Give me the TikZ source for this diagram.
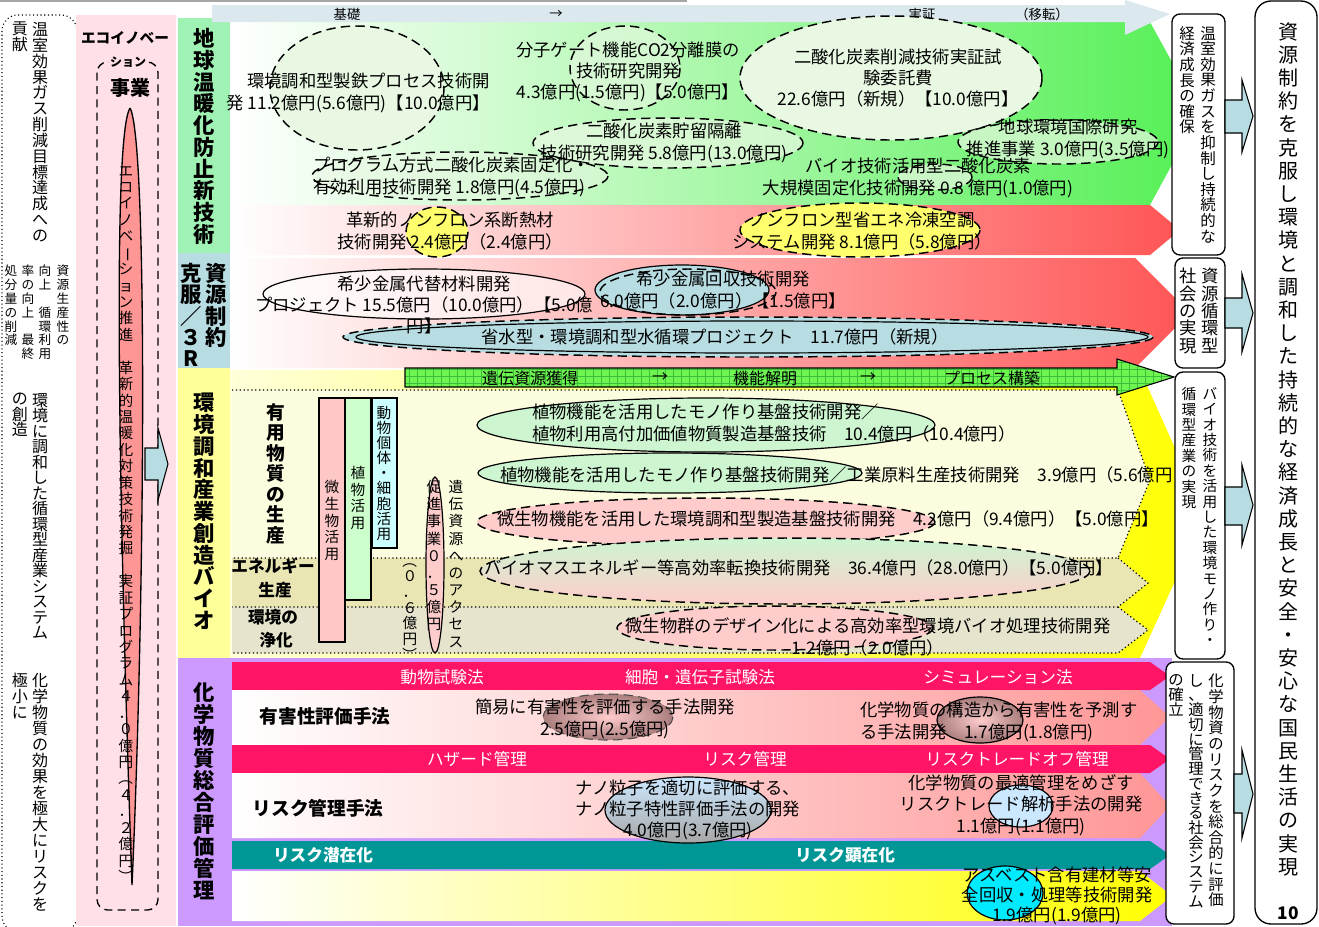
\documentclass[tikz,border=0pt]{standalone}
\usepackage{fontspec}
\setmainfont{Noto Sans CJK JP}
\newfontfamily\vfont{Noto Sans CJK JP}
\usetikzlibrary{shapes.geometric}
\makeatletter
\newcommand\fsz[2]{\fontsize{#1pt}{#2pt}\selectfont}
\def\vt@bar{ー}\def\vt@lp{（}\def\vt@rp{）}
\def\vt@rot{\rotatebox[origin=c]{-90}{\vt@c}}
\newcommand\vt@put{\ifx\vt@c\vt@bar\vt@rot\else\ifx\vt@c\vt@lp\vt@rot\else\ifx\vt@c\vt@rp\vt@rot\else\vt@c\fi\fi\fi}
\newcommand\vt[3]{{#1\vbox{\baselineskip=#2em\lineskip=0pt\lineskiplimit=-100pt\@tfor\vt@c:=#3\do{\hbox to1em{\hss\vt@put\hss}}}}}
\makeatother
\definecolor{catG}{RGB}{160,242,180}
\definecolor{catB}{RGB}{183,221,226}
\definecolor{catY}{RGB}{255,255,153}
\definecolor{catP}{RGB}{204,153,255}
\definecolor{ecoP}{RGB}{255,224,230}
\definecolor{lensR}{RGB}{255,150,150}
\definecolor{topA}{RGB}{219,232,238}
\definecolor{grn}{RGB}{85,240,85}
\definecolor{redR}{RGB}{255,85,85}
\definecolor{ellG}{RGB}{232,248,226}
\definecolor{ellY}{RGB}{255,255,110}
\definecolor{ellB}{RGB}{183,221,226}
\definecolor{arrB}{RGB}{183,221,226}
\definecolor{gArr}{RGB}{110,245,80}
\definecolor{gGrid}{RGB}{60,190,60}
\definecolor{pa}{RGB}{252,252,222}
\definecolor{pb}{RGB}{234,230,180}
\definecolor{pc}{RGB}{230,228,204}
\definecolor{barP}{RGB}{255,200,200}
\definecolor{barG}{RGB}{204,255,204}
\definecolor{barC}{RGB}{204,255,255}
\definecolor{eG}{RGB}{204,245,208}
\definecolor{pinkE}{RGB}{255,204,204}
\definecolor{mag}{RGB}{255,20,102}
\definecolor{tealB}{RGB}{0,150,150}
\definecolor{salm}{RGB}{255,150,150}
\definecolor{lav}{RGB}{204,153,255}
\definecolor{brn}{RGB}{170,125,125}
\definecolor{ltblue}{RGB}{204,232,255}
\definecolor{cyn}{RGB}{0,235,255}
\begin{document}
\begin{tikzpicture}[x=0.75pt,y=-0.75pt,
 dsh/.style={draw=black, line width=1.1pt, dash pattern=on 7pt off 4pt},
 sol/.style={draw=black, line width=0.9pt},
 tx/.style={font=\fsz{13}{16}, align=center, inner sep=0pt},
 txl/.style={font=\fsz{13}{16}, align=left, inner sep=0pt, anchor=west},
 vn/.style={anchor=north, inner sep=0pt},
 band/.style={font=\fsz{12.5}{14}, text=white, inner sep=0pt},
 bandb/.style={font=\fsz{12.5}{14}\bfseries, text=white, inner sep=0pt},
 rbox/.style={draw=black, fill=white, line width=1pt, rounded corners=6pt},
 barr/.style={draw=black, fill=arrB, line width=0.8pt}]
\useasboundingbox (0,0) rectangle (1319,926);
\fill[white] (0,0) rectangle (1319,926);
\draw[gray!70, line width=0.8pt] (0,1) -- (687,1);

% left column
\draw[dotted, line width=0.8pt, rounded corners=12pt] (2,15) rectangle (77,932);
\node[vn] (l1a) at (40,22) {\vt{\vfont\fsz{12}{12}}{0.99}{温室効果ガス削減目標達成への}};
\node[vn] (l1b) at (20,22) {\vt{\vfont\fsz{12}{12}}{0.99}{貢献}};
\node[vn] (l2a) at (63,265) {\vt{\vfont\fsz{9.5}{9.5}}{1.09}{資源生産性の}};
\node[vn] (l2b) at (45,265) {\vt{\vfont\fsz{9.5}{9.5}}{1.09}{向上~循環利用}};
\node[vn] (l2c) at (28,265) {\vt{\vfont\fsz{9.5}{9.5}}{1.09}{率の向上~最終}};
\node[vn] (l2d) at (11,265) {\vt{\vfont\fsz{9.5}{9.5}}{1.09}{処分量の削減}};
\node[vn] (l3a) at (40,393) {\vt{\vfont\fsz{12}{12}}{0.97}{環境に調和した循環型産業システム}};
\node[vn] (l3b) at (20,393) {\vt{\vfont\fsz{12}{12}}{0.97}{の創造}};
\node[vn] (l4a) at (40,673) {\vt{\vfont\fsz{12}{12}}{1.0}{化学物質の効果を極大にリスクを}};
\node[vn] (l4b) at (20,673) {\vt{\vfont\fsz{12}{12}}{1.0}{極小に}};

% eco column
\fill[ecoP] (76,15) rectangle (176,926);
\draw[line width=1pt, dash pattern=on 6pt off 4pt, rounded corners=8pt] (97,62) rectangle (158,910);
\node[font=\fsz{11}{11}\bfseries, inner sep=0pt, fill=ecoP] (eh1) at (125,38) {エコイノベー};
\node[font=\fsz{9}{9}\bfseries, inner sep=1pt, fill=ecoP] (eh2) at (128,62) {ション};
\node[font=\fsz{15}{15}\bfseries, inner sep=0pt] (eh3) at (130,88) {事業};
\draw[fill=lensR, line width=1pt] (130,108) .. controls (148,140) and (145,600) .. (132,885) .. controls (122,600) and (110,140) .. (130,108);
\node[vn] (ecot) at (126,166) {\vt{\vfont\fsz{11}{11}}{1.12}{エコイノベーション推進~革新的温暖化対策技術発掘~実証プログラム４．０億円（４．２億円）}};
\draw[barr] (145,448) -- (158,448) -- (158,428) -- (168,464) -- (158,500) -- (158,480) -- (145,480) -- cycle;

% category column
\fill[catG] (178,18) rectangle (230,253);
\fill[catB] (178,253) rectangle (230,368);
\fill[catY] (178,368) rectangle (230,658);
\fill[catP] (178,658) rectangle (230,926);
\node[vn] (c1) at (204,28) {\vt{\vfont\fsz{16}{16}\bfseries}{1.02}{地球温暖化防止新技術}};
\node[vn] (c2a) at (216,263) {\vt{\vfont\fsz{16}{16}\bfseries}{1.0}{資源制約}};
\node[vn] (c2b) at (191,263) {\vt{\vfont\fsz{16}{16}\bfseries}{1.0}{克服／３R}};
\node[vn] (c3) at (204,393) {\vt{\vfont\fsz{16}{16}\bfseries}{1.02}{環境調和産業創造バイオ}};
\node[vn] (c4) at (204,682) {\vt{\vfont\fsz{16}{16}\bfseries}{1.03}{化学物質総合評価管理}};

% row 1 and 1b and 2
\shade[left color=white, middle color=grn!45, right color=grn] (230,22) -- (1150,22) -- (1200,113) -- (1150,205) -- (230,205) -- cycle;
\shade[left color=white, middle color=redR!30, right color=redR] (230,205) -- (1150,205) -- (1180,230) -- (1150,255) -- (230,255) -- cycle;
\shade[left color=white, middle color=redR!35, right color=redR] (230,258) -- (1135,258) -- (1190,313) -- (1135,368) -- (230,368) -- cycle;
\fill[topA] (212,5) -- (1125,5) -- (1125,0) -- (1170,14) -- (1125,35) -- (1125,22) -- (212,22) -- cycle;
\node[font=\fsz{10}{10}, inner sep=0pt] (k1) at (347,14) {基礎};
\node[font=\fsz{10}{10}, inner sep=0pt] (k2) at (556,14) {→};
\node[font=\fsz{10}{10}, inner sep=0pt] (k3) at (922,14) {実証};
\node[font=\fsz{10}{10}, inner sep=0pt] (k4) at (1042,14) {（移転）};

% row 1 ellipses
\draw[dsh, fill=ellG] (357,88) ellipse [x radius=87, y radius=62];
\draw[dsh, fill=ellG, fill opacity=0.6] (625,68) ellipse [x radius=55, y radius=42];
\draw[dsh, fill=ellG] (891,78) ellipse [x radius=151, y radius=62];
\draw[dsh, fill=ellG, fill opacity=0.7] (668,143) ellipse [x radius=135, y radius=25];
\draw[dsh, fill=ellG, fill opacity=0.5] (460,176) ellipse [x radius=148, y radius=24];
\draw[dsh, fill=ellG, fill opacity=0.7] (1058,142) ellipse [x radius=100, y radius=22];
\draw[dsh, fill=ellG, fill opacity=0.7] (935,177) ellipse [x radius=37, y radius=13];
\draw[dsh, fill=ellY] (437,232) ellipse [x radius=31, y radius=25];
\draw[dsh, fill=ellY] (860,230) ellipse [x radius=120, y radius=27];
\node[tx, align=right, anchor=east] (t1) at (490,93) {環境調和型製鉄プロセス技術開\\発 11.2億円(5.6億円)【10.0億円】};
\node[tx] (t2) at (628,72) {分子ゲート機能CO2分離膜の\\技術研究開発\\4.3億円(1.5億円)【5.0億円】};
\node[tx] (t3) at (898,78) {二酸化炭素削減技術実証試\\験委託費\\22.6億円（新規）【10.0億円】};
\node[tx] (t4) at (664,143) {二酸化炭素貯留隔離\\技術研究開発 5.8億円(13.0億円)};
\node[txl] (t5) at (313,177) {プログラム方式二酸化炭素固定化・\\有効利用技術開発 1.8億円(4.5億円)};
\node[tx] (t6) at (1068,139) {地球環境国際研究\\推進事業 3.0億円(3.5億円)};
\node[tx] (t7) at (918,178) {バイオ技術活用型二酸化炭素\\大規模固定化技術開発 0.8 億円(1.0億円)};
\node[tx] (t8) at (450,231) {革新的ノンフロン系断熱材\\技術開発 2.4億円（2.4億円）};
\node[tx] (t9) at (862,231) {ノンフロン型省エネ冷凍空調\\システム開発 8.1億円（5.8億円）};

% row 2 ellipses
\draw[sol, fill=white, fill opacity=0.6] (424,294) ellipse [x radius=161, y radius=25];
\draw[sol, fill=ellB] (682,290) ellipse [x radius=87, y radius=25];
\draw[dsh] (688,292) ellipse [x radius=88, y radius=23];
\draw[dsh, fill=ellB] (748,337) ellipse [x radius=405, y radius=20];
\draw[sol] (752,337) ellipse [x radius=396, y radius=16];
\node[tx] (t10) at (424,305) {希少金属代替材料開発\\プロジェクト 15.5億円（10.0億円）【5.0億\\円】};
\node[tx] (t11) at (723,290) {希少金属回収技術開発\\6.0億円（2.0億円）【1.5億円】};
\node[tx] (t12) at (715,337) {省水型・環境調和型水循環プロジェクト　11.7億円（新規）};

% row 3
\shade[left color=yellow!15, right color=yellow] (230,370) -- (1140,370) -- (1205,515) -- (1140,658) -- (230,658) -- cycle;
\fill[pa] (232,390) -- (1118,390) -- (1150,480) -- (1118,558) -- (232,558) -- cycle;
\fill[pb] (232,558) -- (1118,558) -- (1148,583) -- (1118,607) -- (232,607) -- cycle;
\fill[pc] (232,607) -- (1118,607) -- (1148,630) -- (1118,653) -- (232,653) -- cycle;
\draw[dotted, line width=0.9pt] (232,390) -- (1118,390) -- (1150,480) -- (1118,558) -- (232,558);
\draw[dotted, line width=0.9pt] (1118,558) -- (1148,583) -- (1118,607) -- (232,607);
\draw[dotted, line width=0.9pt] (1118,607) -- (1148,630) -- (1118,653) -- (232,653);
\fill[gArr] (405,368) -- (1117,368) -- (1117,359) -- (1174,377) -- (1117,395) -- (1117,387) -- (405,387) -- cycle;
\begin{scope}
\clip (405,368) -- (1117,368) -- (1117,359) -- (1174,377) -- (1117,395) -- (1117,387) -- (405,387) -- cycle;
\foreach \gx in {409,417,...,1177} \draw[gGrid, line width=0.3pt] (\gx,355) -- (\gx,400);
\foreach \gy in {362,369,...,397} \draw[gGrid, line width=0.3pt] (405,\gy) -- (1177,\gy);
\end{scope}
\draw[line width=0.8pt] (405,368) -- (1117,368) -- (1117,359) -- (1174,377) -- (1117,395) -- (1117,387) -- (405,387) -- cycle;
\node[font=\fsz{12}{12}, inner sep=0pt] (g1) at (530,378) {遺伝資源獲得};
\node[font=\fsz{12}{12}, inner sep=0pt] (g2) at (660,378) {→};
\node[font=\fsz{12}{12}, inner sep=0pt] (g3) at (765,378) {機能解明};
\node[font=\fsz{12}{12}, inner sep=0pt] (g4) at (868,378) {→};
\node[font=\fsz{12}{12}, inner sep=0pt] (g5) at (992,378) {プロセス構築};

\node[vn] (y1) at (276,403) {\vt{\vfont\fsz{14}{14}\bfseries}{1.1}{有用物質の生産}};
\node[font=\fsz{12.5}{12.5}\bfseries, inner sep=0pt] (y2a) at (273,566) {エネルギー};
\node[font=\fsz{12.5}{12.5}\bfseries, inner sep=0pt] (y2b) at (275,590) {生産};
\node[font=\fsz{12.5}{12.5}\bfseries, inner sep=0pt] (y3a) at (273,617) {環境の};
\node[font=\fsz{12.5}{12.5}\bfseries, inner sep=0pt] (y3b) at (276,640) {浄化};

\draw[sol, fill=barP] (319,398) rectangle (345,642);
\draw[sol, fill=barG] (345,398) rectangle (371,600);
\draw[sol, fill=barC] (372,398) rectangle (397,548);
\node[vn] (b1) at (332,480) {\vt{\vfont\fsz{11}{11}}{1.14}{微生物活用}};
\node[vn] (b2) at (358,466) {\vt{\vfont\fsz{11}{11}}{1.13}{植物活用}};
\node[vn] (b3) at (384,406) {\vt{\vfont\fsz{11}{11}}{1.03}{動物個体・細胞活用}};
\node[vn] (b4) at (410,553) {\vt{\vfont\fsz{11}{11}}{1.07}{（０．６億円）}};
\draw[sol, fill=pinkE] (435,565) ellipse [x radius=9, y radius=88];
\node[vn] (b5) at (434,480) {\vt{\vfont\fsz{11}{11}}{1.17}{促進事業０．５億円}};
\node[vn] (b6) at (456,480) {\vt{\vfont\fsz{11}{11}}{1.17}{遺伝資源へのアクセス}};

\draw[sol, fill=eG] (706,425) ellipse [x radius=229, y radius=27];
\draw[sol, fill=eG] (670,473) ellipse [x radius=192, y radius=20];
\draw[dsh, fill=pinkE] (706,522) ellipse [x radius=229, y radius=24];
\shade[top color=eG, bottom color=pinkE] (785,571) ellipse [x radius=305, y radius=33];
\draw[dsh] (785,571) ellipse [x radius=305, y radius=33];
\draw[dsh, fill=pinkE] (775,628) ellipse [x radius=158, y radius=22];
\node[txl] (t13) at (532,423) {植物機能を活用したモノ作り基盤技術開発／\\植物利用高付加価値物質製造基盤技術　10.4億円（10.4億円）};
\node[txl] (t14) at (500,475) {植物機能を活用したモノ作り基盤技術開発／工業原料生産技術開発　3.9億円（5.6億円};
\node[txl] (t15) at (497,519) {微生物機能を活用した環境調和型製造基盤技術開発　4.2億円（9.4億円）【5.0億円】};
\node[txl] (t16) at (484,568) {バイオマスエネルギー等高効率転換技術開発　36.4億円（28.0億円）【5.0億円】};
\node[tx] (t17) at (868,637) {微生物群のデザイン化による高効率型環境バイオ処理技術開発\\1.2億円（2.0億円）};

% row 4
\fill[lav] (230,658) rectangle (1172,926);
\fill[mag] (232,662) -- (1150,662) -- (1170,676) -- (1150,690) -- (232,690) -- cycle;
\shade[left color=white, right color=salm] (232,690) -- (1140,690) -- (1170,717) -- (1140,745) -- (232,745) -- cycle;
\fill[mag] (232,745) -- (1150,745) -- (1170,759) -- (1150,773) -- (232,773) -- cycle;
\shade[left color=white, right color=salm] (232,773) -- (1140,773) -- (1170,806) -- (1140,838) -- (232,838) -- cycle;
\fill[tealB] (232,841) -- (1150,841) -- (1170,855) -- (1150,869) -- (232,869) -- cycle;
\shade[left color=white, right color=yellow] (232,871) -- (1140,871) -- (1172,896) -- (1140,921) -- (232,921) -- cycle;
\node[band] (m1) at (442,677) {動物試験法};
\node[band] (m2) at (700,677) {細胞・遺伝子試験法};
\node[band] (m3) at (998,677) {シミュレーション法};
\node[band] (m4) at (477,759) {ハザード管理};
\node[band] (m5) at (745,759) {リスク管理};
\node[band] (m6) at (1017,759) {リスクトレードオフ管理};
\node[bandb] (m7) at (323,855) {リスク潜在化};
\node[bandb] (m8) at (845,855) {リスク顕在化};
\node[font=\fsz{14}{14}\bfseries, inner sep=0pt] (h1) at (325,716) {有害性評価手法};
\node[font=\fsz{14}{14}\bfseries, inner sep=0pt] (h2) at (318,808) {リスク管理手法};
\shade[inner color=pinkE, outer color=brn] (608,717) ellipse [x radius=65, y radius=23];
\draw[dsh, draw=black!70, line width=0.8pt] (608,717) ellipse [x radius=65, y radius=23];
\shade[inner color=pinkE, outer color=brn] (980,720) ellipse [x radius=43, y radius=23];
\draw[sol] (980,720) ellipse [x radius=43, y radius=23];
\shade[top color=ltblue, bottom color=gray!70] (688,810) ellipse [x radius=83, y radius=33];
\draw[sol] (688,810) ellipse [x radius=83, y radius=33];
\draw[sol, fill=ltblue] (1021,806) ellipse [x radius=32, y radius=21];
\draw[sol, fill=cyn] (1005,893) ellipse [x radius=38, y radius=27];
\node[tx] (t18) at (605,719) {簡易に有害性を評価する手法開発\\2.5億円(2.5億円)};
\node[txl] (t19) at (860,722) {化学物質の構造から有害性を予測す\\る手法開発　1.7億円(1.8億円)};
\node[tx] (t20) at (688,810) {ナノ粒子を適切に評価する、\\ナノ粒子特性評価手法の開発\\4.0億円(3.7億円)};
\node[tx] (t21) at (1021,805) {化学物質の最適管理をめざす\\リスクトレード解析手法の開発\\1.1億円(1.1億円)};
\node[tx, font=\fsz{13}{15}] (t22) at (1057,896) {アスベスト含有建材等安\\全回収・処理等技術開発\\1.9億円(1.9億円)};

% right boxes
\draw[rbox] (1172,14) rectangle (1225,255);
\draw[rbox] (1175,258) rectangle (1225,368);
\draw[rbox] (1175,372) rectangle (1225,659);
\draw[rbox] (1166,662) rectangle (1234,924);
\draw[rbox, rounded corners=12pt] (1255,1) rectangle (1317,924);
\node[vn] (r1a) at (1208,26) {\vt{\vfont\fsz{11.6}{11.6}}{1.01}{温室効果ガスを抑制し持続的な}};
\node[vn] (r1b) at (1187,26) {\vt{\vfont\fsz{11.6}{11.6}}{1.01}{経済成長の確保}};
\node[vn] (r2a) at (1210,268) {\vt{\vfont\fsz{13}{13}}{1.0}{資源循環型}};
\node[vn] (r2b) at (1188,268) {\vt{\vfont\fsz{13}{13}}{1.0}{社会の実現}};
\node[vn] (r3a) at (1210,387) {\vt{\vfont\fsz{11}{11}}{1.05}{バイオ技術を活用した環境モノ作り・}};
\node[vn] (r3b) at (1189,387) {\vt{\vfont\fsz{11}{11}}{1.05}{循環型産業の実現}};
\node[vn] (r4a) at (1216,674) {\vt{\vfont\fsz{11.5}{11.5}}{1.02}{化学物資のリスクを総合的に評価}};
\node[vn] (r4b) at (1196,674) {\vt{\vfont\fsz{11.5}{11.5}}{0.96}{し、適切に管理できる社会システム}};
\node[vn] (r4c) at (1176,674) {\vt{\vfont\fsz{11.5}{11.5}}{1.0}{の確立}};
\node[vn] (fin) at (1288,22) {\vt{\vfont\fsz{15}{15}}{1.16}{資源制約を克服し環境と調和した持続的な経済成長と安全・安心な国民生活の実現}};
\node[font=\fsz{13}{13}\bfseries, inner sep=0pt] (pg) at (1288,913) {10};
\draw[barr] (1225,100) -- (1242,100) -- (1242,80) -- (1253,116) -- (1242,152) -- (1242,133) -- (1225,133) -- cycle;
\draw[barr] (1225,298) -- (1242,298) -- (1242,274) -- (1253,313) -- (1242,352) -- (1242,328) -- (1225,328) -- cycle;
\draw[barr] (1225,487) -- (1242,487) -- (1242,465) -- (1253,505) -- (1242,545) -- (1242,525) -- (1225,525) -- cycle;
\draw[barr] (1234,774) -- (1242,774) -- (1242,750) -- (1253,794) -- (1242,838) -- (1242,813) -- (1234,813) -- cycle;
\end{tikzpicture}
\end{document}
